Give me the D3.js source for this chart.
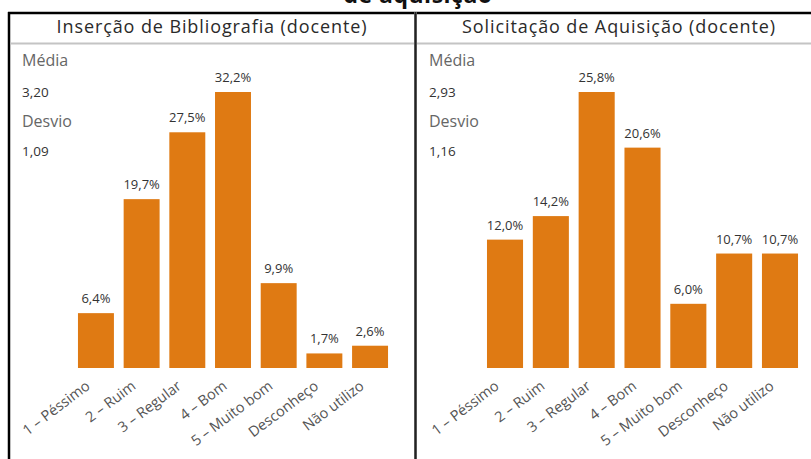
<!DOCTYPE html>
<html>
<head>
<meta charset="utf-8">
<script src="https://cdn.jsdelivr.net/npm/d3@7"></script>
<style>
  body { margin: 0; background: #fff; }
  svg { display: block; font-family: "Open Sans", "Noto Sans", sans-serif; }
</style>
</head>
<body>
<div id="chart"></div>
<script>
// data
const CATEGORIES = ["1 – Péssimo", "2 – Ruim", "3 – Regular", "4 – Bom", "5 – Muito bom", "Desconheço", "Não utilizo"];
const BIBLIO_VALUES = [6.4, 19.7, 27.5, 32.2, 9.9, 1.7, 2.6];
const AQUIS_VALUES = [12.0, 14.2, 25.8, 20.6, 6.0, 10.7, 10.7];
const PANEL_TITLES = ["Inserção de Bibliografia (docente)", "Solicitação de Aquisição (docente)"];
const STAT_LABELS = ["Média", "Desvio"];
const BIBLIO_STATS = ["3,20", "1,09"];
const AQUIS_STATS = ["2,93", "1,16"];
const HEADING = "de aquisição";

const FRAME_WIDTH = 811;
const FRAME_HEIGHT = 459;
const BAR_COLOR = "#DF7A13";
const BASELINE = 368;
const TOP = 92;

const FRAME = d3.select("#chart")
                .append("svg")
                  .attr("width", FRAME_WIDTH)
                  .attr("height", FRAME_HEIGHT);

// heading line, cut off at the top edge like in the screenshot
FRAME.append("text")
     .attr("x", 418)
     .attr("y", 3)
     .attr("text-anchor", "middle")
     .attr("font-size", "23px")
     .attr("font-weight", "bold")
     .attr("letter-spacing", "0.5px")
     .attr("fill", "#111")
     .text(HEADING);

// outer frame lines
FRAME.append("line")
     .attr("x1", 8).attr("x2", FRAME_WIDTH)
     .attr("y1", 13).attr("y2", 13)
     .attr("stroke", "#000").attr("stroke-width", 2.5);
FRAME.append("line")
     .attr("x1", 9).attr("x2", 9)
     .attr("y1", 12).attr("y2", FRAME_HEIGHT)
     .attr("stroke", "#000").attr("stroke-width", 2.5);
FRAME.append("line")
     .attr("x1", 415.5).attr("x2", 415.5)
     .attr("y1", 12).attr("y2", FRAME_HEIGHT)
     .attr("stroke", "#555").attr("stroke-width", 3);
FRAME.append("line")
     .attr("x1", 415.5).attr("x2", 415.5)
     .attr("y1", 12).attr("y2", FRAME_HEIGHT)
     .attr("stroke", "#222").attr("stroke-width", 1);

function build_panel(x0, x1, titleX, barLeft, barRight, title, values, stats) {

  const G = FRAME.append("g");

  // title + separator
  G.append("text")
   .attr("x", titleX)
   .attr("y", 33)
   .attr("text-anchor", "middle")
   .attr("font-size", "18px")
   .attr("letter-spacing", "0.9px")
   .attr("fill", "#2a2a2a")
   .text(title);

  G.append("line")
   .attr("x1", x0).attr("x2", x1)
   .attr("y1", 43.5).attr("y2", 43.5)
   .attr("stroke", "#c4c4c4").attr("stroke-width", 2);

  // side stats
  const statX = x0 + 12;
  G.append("text").attr("x", statX).attr("y", 66)
   .attr("font-size", "16px").attr("fill", "#666").text(STAT_LABELS[0]);
  G.append("text").attr("x", statX).attr("y", 97)
   .attr("font-size", "13.5px").attr("fill", "#333").text(stats[0]);
  G.append("text").attr("x", statX).attr("y", 127)
   .attr("font-size", "16px").attr("fill", "#666").text(STAT_LABELS[1]);
  G.append("text").attr("x", statX).attr("y", 156)
   .attr("font-size", "13.5px").attr("fill", "#333").text(stats[1]);

  const data = CATEGORIES.map((c, i) => { return {cat: c, val: values[i]}; });

  const X_SCALE = d3.scaleBand()
                    .domain(CATEGORIES)
                    .range([barLeft, barRight])
                    .paddingInner(0.213)
                    .paddingOuter(0.1065);

  const MAX_Y = d3.max(values);
  const Y_SCALE = d3.scaleLinear()
                    .domain([0, MAX_Y])
                    .range([BASELINE, TOP]);

  G.selectAll(".bar")
   .data(data)
   .enter()
   .append("rect")
     .attr("class", "bar")
     .attr("x", (d) => { return X_SCALE(d.cat); })
     .attr("y", (d) => { return Y_SCALE(d.val); })
     .attr("width", X_SCALE.bandwidth())
     .attr("height", (d) => { return BASELINE - Y_SCALE(d.val); })
     .attr("fill", BAR_COLOR);

  // value labels
  G.selectAll(".val")
   .data(data)
   .enter()
   .append("text")
     .attr("class", "val")
     .attr("x", (d) => { return X_SCALE(d.cat) + X_SCALE.bandwidth() / 2; })
     .attr("y", (d) => { return Y_SCALE(d.val) - 10; })
     .attr("text-anchor", "middle")
     .attr("font-size", "13px")
     .attr("fill", "#333")
     .text((d) => { return d.val.toFixed(1).replace(".", ",") + "%"; });

  // rotated category axis
  const AXIS = G.append("g")
                .attr("transform", "translate(0," + BASELINE + ")")
                .call(d3.axisBottom(X_SCALE).tickSize(0).tickPadding(0));
  AXIS.select(".domain").remove();
  AXIS.selectAll("text")
      .attr("font-family", "\"Open Sans\", sans-serif")
      .attr("font-size", "14.5px")
      .attr("fill", "#555")
      .attr("dy", null)
      .attr("text-anchor", "end")
      .attr("transform", "translate(-5,20) rotate(-37)");
}

build_panel(10, 414, 212, 73.1, 392.9, PANEL_TITLES[0], BIBLIO_VALUES, BIBLIO_STATS);
build_panel(417, FRAME_WIDTH, 619, 482.1, 802.9, PANEL_TITLES[1], AQUIS_VALUES, AQUIS_STATS);
</script>
</body>
</html>
